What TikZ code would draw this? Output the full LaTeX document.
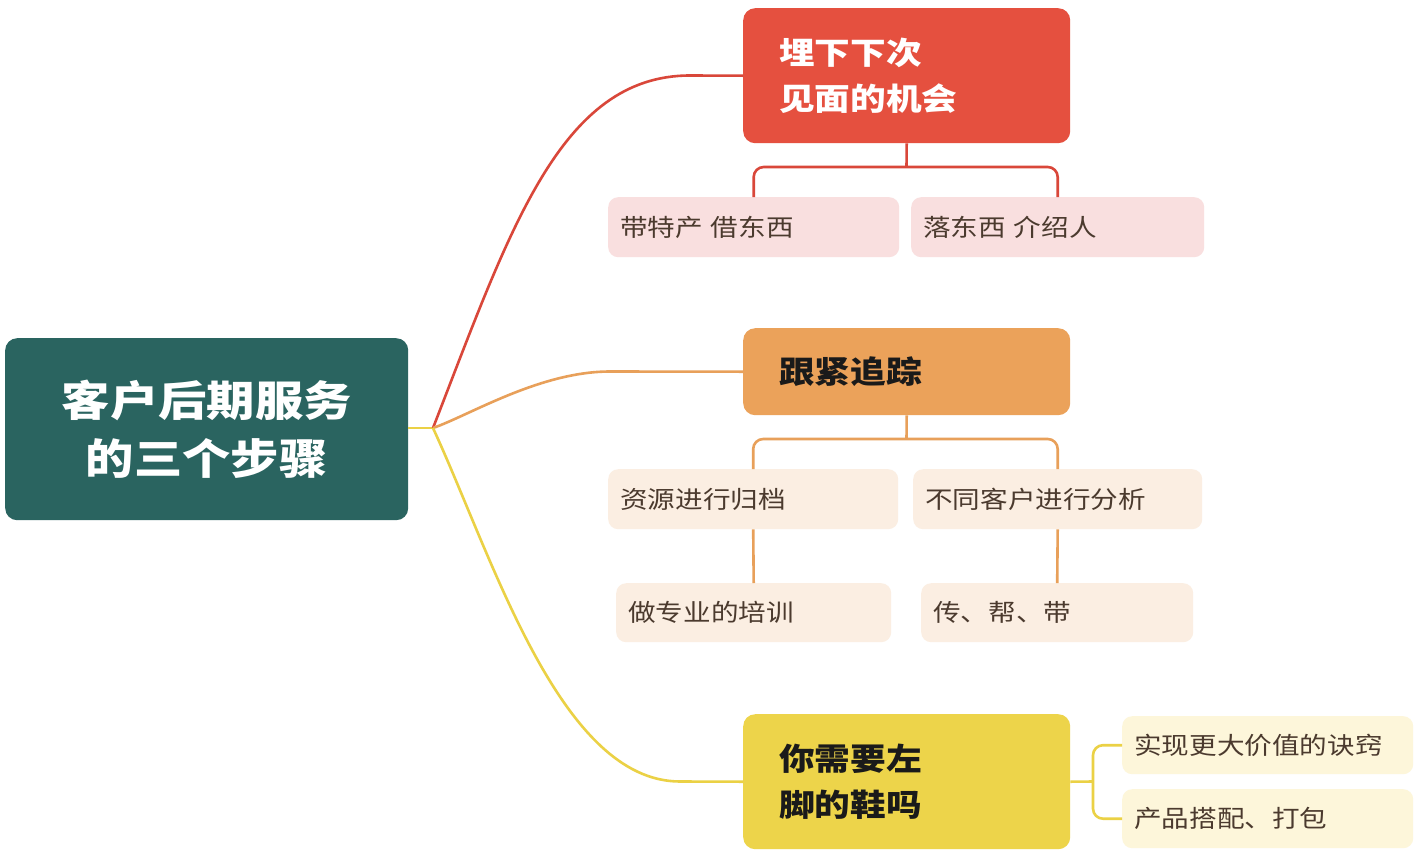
\documentclass[tikz,border=0pt]{standalone}
\usepackage{fontspec}
\newfontfamily\cjk[FakeStretch=1.15]{Noto Sans CJK SC}
\definecolor{rootc}{HTML}{2A6460}
\definecolor{redc}{HTML}{E5503F}
\definecolor{orangec}{HTML}{EBA25A}
\definecolor{yellowc}{HTML}{EDD44A}
\definecolor{redline}{HTML}{D9473A}
\definecolor{orangeline}{HTML}{E8A05A}
\definecolor{yellowline}{HTML}{EBD145}
\definecolor{redleaf}{HTML}{F9DFDF}
\definecolor{orangeleaf}{HTML}{FBEEE2}
\definecolor{yellowleaf}{HTML}{FDF6DA}
\definecolor{leaftext}{HTML}{4B3A2E}
\definecolor{darktext}{HTML}{1A1A1A}
\begin{document}
\begin{tikzpicture}[x=1pt,y=-1pt,
  rootbox/.style={fill=rootc, rounded corners=12pt, anchor=north west, inner sep=0pt,
    minimum width=403pt, minimum height=182pt, text=white, align=center,
    font=\cjk\bfseries\fontsize{42}{58}\selectfont},
  lvlbox/.style={rounded corners=12pt, anchor=north west, inner xsep=36pt, inner ysep=0pt,
    minimum width=327pt, text width=255pt, align=left,
    font=\cjk\bfseries\fontsize{31}{46}\selectfont},
  leafbox/.style={rounded corners=10pt, anchor=north west, inner xsep=12pt, inner ysep=0pt,
    minimum height=60pt, align=left, text=leaftext,
    font=\cjk\fontsize{24}{30}\selectfont},
  conn/.style={line width=2.6pt},
]
\useasboundingbox (0,0) rectangle (1420,862);
\fill[white] (0,0) rectangle (1420,862);

% nodes
\node[rootbox] (root) at (5,338) {客户后期服务\\的三个步骤};
\node[lvlbox, fill=redc, text=white, minimum height=135pt] (red) at (743,8) {埋下下次\\见面的机会};
\node[lvlbox, fill=orangec, text=darktext, minimum height=87pt] (ora) at (743,328) {跟紧追踪};
\node[lvlbox, fill=yellowc, text=darktext, minimum height=135pt] (yel) at (743,714) {你需要左\\脚的鞋吗};

\node[leafbox, fill=redleaf, text width=267pt] (rl) at (608,197) {带特产 借东西};
\node[leafbox, fill=redleaf, text width=269pt] (rr) at (911,197) {落东西 介绍人};

\node[leafbox, fill=orangeleaf, text width=266pt] (ol1) at (608,469) {资源进行归档};
\node[leafbox, fill=orangeleaf, text width=265pt] (or1) at (913,469) {不同客户进行分析};
\node[leafbox, fill=orangeleaf, text width=251pt, minimum height=59pt] (ol2) at (616,583) {做专业的培训};
\node[leafbox, fill=orangeleaf, text width=248pt, minimum height=59pt] (or2) at (921,583) {传、帮、带};

\node[leafbox, fill=yellowleaf, text width=267pt, minimum height=58pt] (yl1) at (1122,716) {实现更大价值的诀窍};
\node[leafbox, fill=yellowleaf, text width=267pt, minimum height=59pt] (yl2) at (1122,789) {产品搭配、打包};

% joints
\coordinate (hub) at (433,428);
\coordinate (rj) at (906.5,167);
\coordinate (oj) at (906.5,439);
\coordinate (yj) at (1093,781.5);

% trunk and main branches
\draw[conn, yellowline] (root.east |- hub) -- (hub);
\draw[conn, redline] (hub) .. controls (510,230) and (560,75.5) .. (690,75.5) -- (red.west);
\draw[conn, orangeline] (hub) .. controls (470,415) and (540,371.5) .. (610,371.5) -- (ora.west);
\draw[conn, yellowline] (hub) .. controls (493,558) and (560,781.5) .. (680,781.5) -- (yel.west);

% red subtree
\draw[conn, redline] (red.south) -- (rj);
\draw[conn, redline, rounded corners=10pt] (rl.north) |- (rj) -| (rr.north);

% orange subtree
\draw[conn, orangeline] (ora.south) -- (oj);
\draw[conn, orangeline, rounded corners=10pt] (ol1.north) |- (oj) -| (or1.north);
\draw[conn, orangeline] (ol1.south) -- (ol2.north);
\draw[conn, orangeline] (or1.south) -- (or2.north);

% yellow subtree
\draw[conn, yellowline] (yel.east) -- (yj);
\draw[conn, yellowline, rounded corners=10pt] (yl1.west) -| (yj) |- (yl2.west);
\end{tikzpicture}
\end{document}
